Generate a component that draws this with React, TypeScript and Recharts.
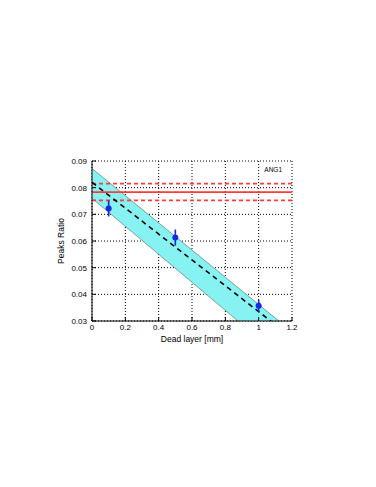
import React from 'react';
import {
  ComposedChart, XAxis, YAxis, CartesianGrid, Area, Line, Scatter, ErrorBar, ReferenceLine,
} from 'recharts';

// fitted line and its uncertainty band (end points, clipped by the axes)
const fitX = [0, 1.2];
const fitCenter = [0.082, 0.0238];
const bandLow = [0.076, 0.013];
const bandHigh = [0.0872, 0.026];

// measured points
const depth = [0.1, 0.5, 1.0];
const ratio = [0.0722, 0.0613, 0.0357];
const ratioErr = [0.003, 0.003, 0.0022];

// reference ratio with its limits
const refValue = 0.0783;
const refLimits = [0.0815, 0.0752];

const xTicks = [0, 0.2, 0.4, 0.6, 0.8, 1, 1.2];
const yTicks = [0.03, 0.04, 0.05, 0.06, 0.07, 0.08, 0.09];

const FONT = '"Liberation Sans", Arial, sans-serif';

const fitData = fitX.map((x, i) => ({ x, fit: fitCenter[i], band: [bandLow[i], bandHigh[i]] }));
const pointData = depth.map((x, i) => ({ x, y: ratio[i], err: ratioErr[i] }));

const tickStyle = { fontSize: 8, fill: '#000', fontFamily: FONT };
const labelStyle = { fontSize: 8.5, fill: '#000', fontFamily: FONT, textAnchor: 'middle' as const };

const Dot = (props: any) => (
  <circle cx={props.cx} cy={props.cy} r={3} fill="#1428E6" />
);

export default function App() {
  return (
    <div style={{ position: 'absolute', left: 0, top: 0, width: 376, height: 487, background: '#fff' }}>
      <ComposedChart
        width={376}
        height={487}
        margin={{ top: 161, right: 84, bottom: 144, left: 62 }}
      >
        <CartesianGrid stroke="#000" strokeDasharray="1 2" strokeWidth={1} />
        <XAxis
          dataKey="x"
          type="number"
          domain={[0, 1.2]}
          ticks={xTicks}
          tickFormatter={(v: number) => String(v)}
          stroke="#000"
          tickSize={-4}
          tickMargin={7}
          height={22}
          tick={tickStyle}
          allowDataOverflow
          label={{ value: 'Dead layer [mm]', position: 'insideBottom', offset: 1, style: labelStyle }}
        />
        <XAxis
          xAxisId="top"
          orientation="top"
          type="number"
          domain={[0, 1.2]}
          ticks={xTicks}
          tickFormatter={() => ''}
          stroke="#000"
          tickSize={-4}
          height={0}
        />
        <YAxis
          type="number"
          domain={[0.03, 0.09]}
          ticks={yTicks}
          tickFormatter={(v: number) => v.toFixed(2)}
          stroke="#000"
          tickSize={-4}
          tickMargin={9}
          width={30}
          tick={tickStyle}
          allowDataOverflow
          label={{ value: 'Peaks Ratio', angle: -90, position: 'insideLeft', offset: -1, style: labelStyle }}
        />
        <YAxis
          yAxisId="right"
          orientation="right"
          type="number"
          domain={[0.03, 0.09]}
          ticks={yTicks}
          tickFormatter={() => ''}
          stroke="#000"
          tickSize={-4}
          width={0}
        />
        <Area
          data={fitData}
          dataKey="band"
          type="linear"
          fill="#86F2F2"
          fillOpacity={1}
          stroke="#4a6a6a"
          strokeWidth={0.6}
          isAnimationActive={false}
        />
        <ReferenceLine y={refLimits[0]} stroke="#FF3B3B" strokeWidth={1.8} strokeDasharray="4 3" />
        <ReferenceLine y={refValue} stroke="#FF3B3B" strokeWidth={1.8} />
        <ReferenceLine y={refLimits[1]} stroke="#FF3B3B" strokeWidth={1.8} strokeDasharray="4 3" />
        <Line
          data={fitData}
          dataKey="fit"
          type="linear"
          stroke="#000"
          strokeWidth={1.6}
          strokeDasharray="5 4"
          dot={false}
          isAnimationActive={false}
        />
        <Scatter data={pointData} dataKey="y" shape={<Dot />} isAnimationActive={false}>
          <ErrorBar dataKey="err" direction="y" width={0} stroke="#1428E6" strokeWidth={1.6} />
        </Scatter>
      </ComposedChart>
      <div
        style={{
          position: 'absolute', left: 250, top: 166, width: 32, textAlign: 'right',
          fontFamily: FONT, fontSize: 6.5, color: '#000', lineHeight: '8px',
        }}
      >
        ANG1
      </div>
    </div>
  );
}
